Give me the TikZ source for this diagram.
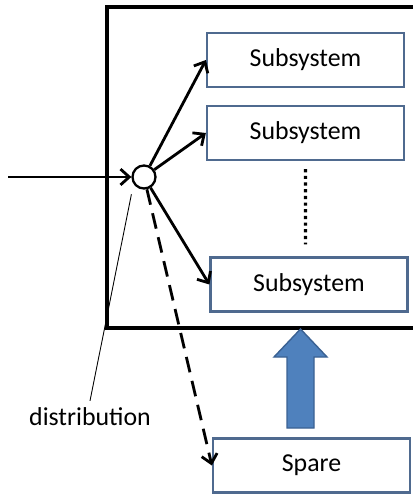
\documentclass[tikz,border=0pt]{standalone}
\usepackage{fontspec}
\setmainfont{Carlito}
\usetikzlibrary{arrows.meta}
\definecolor{boxline}{RGB}{79,106,143}
\definecolor{spareblue}{RGB}{79,129,189}
\definecolor{spareline}{RGB}{58,97,147}
\begin{document}
\begin{tikzpicture}[x=0.02cm, y=-0.02cm,
    every node/.style={font=\fontsize{14.7}{17}\selectfont},
    subbox/.style={draw=boxline, line width=1.3pt, fill=white,
        minimum width=3.94cm, minimum height=1.08cm, inner sep=0pt},
    flow/.style={line width=1.6pt, -{Straight Barb[length=5pt,width=9pt,line width=1.6pt]}}]
    \useasboundingbox (0,0) rectangle (413,496);
    % outer system boundary
    \draw[line width=2pt] (413,7) -- (107,7) -- (107,328) -- (413,328);

    \node[subbox] (s1) at (305.5,60) {Subsystem};
    \node[subbox] (s2) at (305.5,133) {Subsystem};
    \node[subbox] (s3) at (309,284.5) {Subsystem};
    \node[subbox] (spare) at (311.5,465.5) {Spare};
    \node[circle, draw, line width=1.3pt, fill=white, minimum size=0.46cm,
        inner sep=0pt] (dist) at (144,177) {};
    \coordinate (in) at (8,177);

    \draw[flow] (in) -- (dist);
    \draw[flow] (dist) -- (s1.west);
    \draw[flow] (dist) -- (s2.west);
    \draw[flow] (dist) -- (s3.west);
    \draw[flow, dashed, dash pattern=on 9pt off 5pt] (dist) -- (spare.west);
    \draw[line width=1.8pt, dotted] ([yshift=-8*0.02cm]s2.south) -- ([xshift=-3.5*0.02cm, yshift=12*0.02cm]s3.north);

    % replacement arrow
    \draw[fill=spareblue, draw=spareline, line width=0.8pt]
        (287,428) -- (287,357) -- (274,357) -- (300.5,329) -- (327,357)
        -- (314,357) -- (314,428) -- cycle;

    \node[anchor=base] (lbl) at (90,425) {distribution};
    \draw[line width=0.5pt] (lbl.north) -- ([shift={(234:5pt)}]dist.234);
\end{tikzpicture}
\end{document}
